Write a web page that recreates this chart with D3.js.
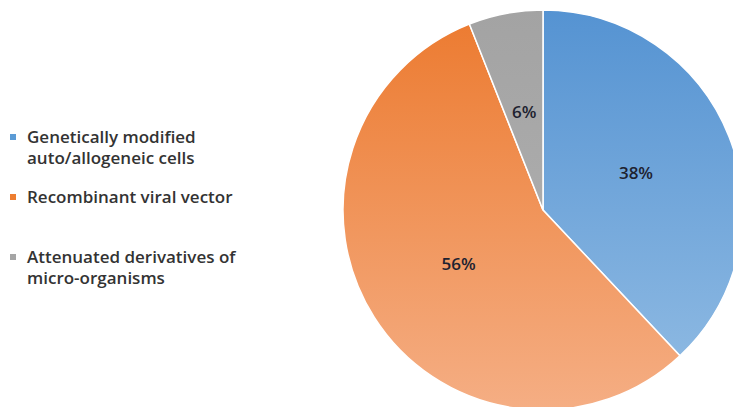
<!DOCTYPE html>
<html>
<head>
<meta charset="utf-8">
<script src="https://cdn.jsdelivr.net/npm/d3@7"></script>
<style>
  body { margin: 0; background: #fff; }
  svg { display: block; }
</style>
</head>
<body>
<svg width="733" height="407"></svg>
<script>
const categories = ['Genetically modified|auto/allogeneic cells', 'Recombinant viral vector', 'Attenuated derivatives of|micro-organisms'];
const values = [38, 56, 6];
const labels = ['38%', '56%', '6%'];

const svg = d3.select('svg');
const radius = 200;
const cx = 543, cy = 210;

// gradient stops (top colour, bottom colour) for each slice
const topColors = ['#5593d2', '#ec7a2f', '#a3a3a3'];
const bottomColors = ['#93bde4', '#f5ae84', '#b4b4b4'];
const legendColors = ['#5b9bd5', '#ed7d31', '#a5a5a5'];

// gradients run top to bottom of the pie, in the pie group's coordinates
const defs = svg.append('defs');
values.forEach((v, i) => {
  const g = defs.append('linearGradient')
    .attr('id', 'grad-' + i)
    .attr('gradientUnits', 'userSpaceOnUse')
    .attr('x1', 0).attr('y1', -radius)
    .attr('x2', 0).attr('y2', radius);
  g.append('stop').attr('offset', '0%').attr('stop-color', topColors[i]);
  g.append('stop').attr('offset', '100%').attr('stop-color', bottomColors[i]);
});

const pie = d3.pie().sort(null).value(d => d);
const arc = d3.arc().innerRadius(0).outerRadius(radius);

const pieG = svg.append('g').attr('transform', 'translate(' + cx + ',' + cy + ')');

const slices = pieG.selectAll('.arc')
  .data(pie(values))
  .enter().append('g')
  .attr('class', 'arc');

slices.append('path')
  .attr('d', arc)
  .attr('fill', (d, i) => 'url(#grad-' + i + ')')
  .attr('stroke', '#fff')
  .attr('stroke-width', 1.5);

slices.append('text')
  .attr('transform', d => 'translate(' + arc.centroid(d) + ')')
  .attr('dy', '0.35em')
  .attr('text-anchor', 'middle')
  .style('font-family', 'Open Sans, sans-serif')
  .style('font-size', '17px')
  .style('font-weight', 600)
  .attr('fill', '#1e2230')
  .text((d, i) => labels[i]);

// legend
const legendY = [137, 197, 257];
const legend = svg.append('g');
categories.forEach((c, i) => {
  legend.append('rect')
    .attr('x', 10).attr('y', legendY[i] - 3)
    .attr('width', 6).attr('height', 6)
    .attr('fill', legendColors[i]);
  const lines = c.split('|');
  lines.forEach((line, j) => {
    legend.append('text')
      .attr('x', 27)
      .attr('y', legendY[i] + j * 21)
      .attr('dy', '0.35em')
      .style('font-family', 'Open Sans, sans-serif')
      .style('font-size', '17px')
      .style('font-weight', 600)
      .attr('fill', '#333')
      .text(line);
  });
});
</script>
</body>
</html>
